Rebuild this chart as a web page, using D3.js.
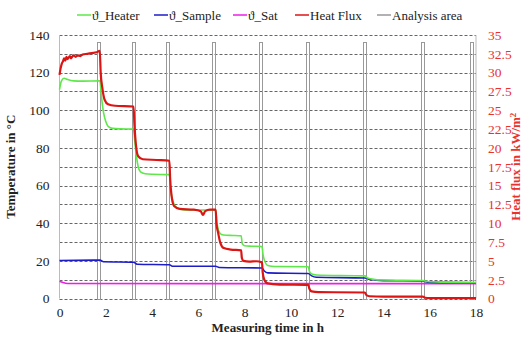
<!DOCTYPE html>
<html>
<head>
<meta charset="utf-8">
<script src="https://cdn.jsdelivr.net/npm/d3@7"></script>
<style>
  body { margin: 0; background: #fff; }
  svg text { font-family: "Liberation Serif", Tinos, "Times New Roman", Times, "DejaVu Serif", serif; }
</style>
</head>
<body>
<script>
// time in h, temperature in °C
const heater = [[0,111],[0.08,115.5],[0.2,117],[0.35,116.3],[0.6,115.6],[1.0,115.5],[1.75,115.6],
  [1.8,109],[1.9,99],[2.0,94],[2.1,91.5],[2.3,90.4],[2.6,90.1],[3.2,90],
  [3.25,84],[3.32,76],[3.4,70],[3.5,67.3],[3.7,66.3],[4.0,66],[4.75,65.8],
  [4.8,58],[4.9,52],[5.0,49],[5.2,47.5],[5.6,47],[6.0,47],[6.75,47],
  [6.8,41],[6.88,36],[7.0,34],[7.2,33.6],[7.5,33.5],[7.85,33.3],
  [7.9,29],[8.0,28],[8.3,27.8],[8.75,27.6],
  [8.8,23],[8.9,19],[9.0,17.5],[9.3,17],[10.75,16.9],
  [10.8,14.5],[10.9,13],[11.1,12.5],[13.2,12],
  [13.3,11],[13.5,10.3],[14,9.8],[15.7,9.6],[15.9,9],[16.5,8.7],[18,8.5]];

const sample = [[0,20.2],[1.75,20.4],[1.9,19.5],[3.2,19.3],[3.35,18.2],[4.75,17.9],[4.9,17.1],
  [6.75,17.1],[6.9,16.5],[8.75,16.2],[8.85,14.6],[9.0,13.6],[10.75,13.3],[10.9,12],[11.1,11.3],
  [13.2,10.9],[13.4,10.2],[14,9.5],[15.7,9.3],[15.9,8.7],[18,8.4]];

const sat = [[0,9.2],[0.15,8.5],[0.35,8.0],[6,7.9],[18,7.9]];

// time in h, heat flux in kW/m²
const heatFlux = [[0,29.7],[0.05,30.6],[0.1,31.2],[0.15,31.5],[0.2,31.9],[0.25,31.6],[0.3,32.1],
  [0.35,31.8],[0.45,32.2],[0.5,31.9],[0.6,32.3],[0.7,32.1],[0.8,32.3],[0.9,32.2],[1.0,32.4],
  [1.2,32.5],[1.4,32.6],[1.6,32.7],[1.74,32.9],
  [1.78,30],[1.85,28],[1.95,26.4],[2.1,25.8],[2.4,25.6],[3.2,25.5],
  [3.24,23],[3.3,20.5],[3.4,18.9],[3.6,18.5],[4.2,18.4],[4.75,18.3],
  [4.78,16],[4.85,13.5],[4.95,12.3],[5.2,11.9],[5.8,11.8],[6.1,11.6],[6.2,11.1],[6.3,11.6],[6.5,11.8],[6.75,11.8],
  [6.78,10],[6.85,8.8],[6.95,7.4],[7.1,6.7],[7.4,6.5],[7.85,6.4],
  [7.88,5.4],[7.95,5.0],[8.2,4.9],[8.5,4.95],[8.75,4.8],
  [8.78,3.5],[8.85,2.5],[9.0,2.0],[9.5,1.85],[10.75,1.8],
  [10.8,1.3],[10.9,0.95],[11.2,0.85],[13.2,0.8],
  [13.25,0.5],[13.4,0.3],[14,0.25],[15.7,0.25],[15.8,0.1],[16,0.05],[18,0.05]];

const areaStart = [1.62, 3.13, 4.6, 6.61, 8.63, 10.64, 13.12, 15.63, 17.75];
const areaEnd   = [1.73, 3.24, 4.74, 6.73, 8.74, 10.76, 13.24, 15.74, 17.9];
const areaTop = 136.5;

const timeTicks = [0, 2, 4, 6, 8, 10, 12, 14, 16, 18];
const tempTicks = [0, 20, 40, 60, 80, 100, 120, 140];
const fluxTicks = [0, 2.5, 5, 7.5, 10, 12.5, 15, 17.5, 20, 22.5, 25, 27.5, 30, 32.5, 35];
const gridTemps = [0, 10, 20, 30, 40, 50, 60, 70, 80, 90, 100, 110, 120, 130, 140];

const legendItems = [
  { name: "ϑ_Heater", color: "#5ee84a", x: 77 },
  { name: "ϑ_Sample", color: "#1d1dc8", x: 154 },
  { name: "ϑ_Sat", color: "#ec1ee8", x: 233 },
  { name: "Heat Flux", color: "#dc1414", x: 295 },
  { name: "Analysis area", color: "#999", x: 377 }
];

const serif = '"Liberation Serif", Tinos, "Times New Roman", Times, "DejaVu Serif", serif';

let svg = d3.select("body").append("svg")
  .attr("width", 525)
  .attr("height", 338)
  .attr("font-family", serif)

let x = d3.scaleLinear().domain([0, 18]).range([59.5, 476]);
let yT = d3.scaleLinear().domain([0, 140]).range([298.5, 35]);
let yF = d3.scaleLinear().domain([0, 35]).range([298.5, 35]);

// dashed grid
svg.selectAll(".grid")
  .data(gridTemps)
  .enter().append("line")
  .attr("x1", x(0)).attr("x2", x(18))
  .attr("y1", d => Math.round(yT(d)) + 0.5)
  .attr("y2", d => Math.round(yT(d)) + 0.5)
  .style("stroke", "#666")
  .style("stroke-dasharray", "3,2")
  .style("stroke-width", 1);

// plot frame sides
svg.append("line").attr("x1", x(0)).attr("x2", x(0)).attr("y1", yT(140)).attr("y2", yT(0))
  .style("stroke", "#bbb");
svg.append("line").attr("x1", x(18)).attr("x2", x(18)).attr("y1", yT(140)).attr("y2", yT(0))
  .style("stroke", "#bbb");

// analysis areas
svg.selectAll(".area")
  .data(areaStart)
  .enter().append("rect")
  .attr("x", d => Math.round(x(d)) + 0.5)
  .attr("y", Math.round(yT(areaTop)) + 0.5)
  .attr("width", (d, i) => Math.round(x(areaEnd[i]) - x(d)))
  .attr("height", Math.round(yT(0) - yT(areaTop)))
  .style("fill", "none")
  .style("stroke", "#999")
  .style("stroke-width", 1);

// series
let lineT = d3.line().x(d => x(d[0])).y(d => yT(d[1])).curve(d3.curveMonotoneX);
let lineF = d3.line().x(d => x(d[0])).y(d => yF(d[1])).curve(d3.curveMonotoneX);

svg.append("path").attr("d", lineT(sat))
  .style("fill", "none").style("stroke", "#ec1ee8").style("stroke-width", 1.6);
svg.append("path").attr("d", lineT(sample))
  .style("fill", "none").style("stroke", "#1d1dc8").style("stroke-width", 1.6);
svg.append("path").attr("d", lineT(heater))
  .style("fill", "none").style("stroke", "#5ee84a").style("stroke-width", 1.6);
svg.append("path").attr("d", lineF(heatFlux))
  .style("fill", "none").style("stroke", "#dc1414").style("stroke-width", 2.2);

// axes
let axL = svg.append("g").attr("transform", "translate(" + x(0) + ",0)")
  .call(d3.axisLeft(yT).tickValues(tempTicks).tickSize(0).tickPadding(10));
let axR = svg.append("g").attr("transform", "translate(" + x(18) + ",0)")
  .call(d3.axisRight(yF).tickValues(fluxTicks).tickSize(0).tickPadding(12).tickFormat(d => String(d)));
let axB = svg.append("g").attr("transform", "translate(0," + yT(0) + ")")
  .call(d3.axisBottom(x).tickValues(timeTicks).tickSize(0).tickPadding(9));

[axL, axR, axB].forEach(a => {
  a.attr("font-family", serif).attr("font-size", 13.5);
  a.select(".domain").remove();
});
axL.selectAll("text").style("fill", "#222");
axB.selectAll("text").style("fill", "#222");
axR.selectAll("text").style("fill", "#e8322e");

// axis titles
svg.append("text")
  .attr("transform", "translate(15," + yT(70) + ") rotate(-90)")
  .attr("text-anchor", "middle")
  .style("font-size", "13px").style("font-weight", "bold").style("fill", "#222")
  .text("Temperature in °C");

svg.append("text")
  .attr("transform", "translate(520," + yT(70) + ") rotate(-90)")
  .attr("text-anchor", "middle")
  .style("font-size", "13px").style("font-weight", "bold").style("fill", "#e8322e")
  .html("Heat flux in kW/m<tspan dy='-4' font-size='9px'>2</tspan>");

svg.append("text")
  .attr("x", (x(0) + x(18)) / 2)
  .attr("y", 332)
  .attr("text-anchor", "middle")
  .style("font-size", "13px").style("font-weight", "bold").style("fill", "#222")
  .text("Measuring time in h");

// legend
let leg = svg.selectAll(".leg")
  .data(legendItems)
  .enter().append("g")
  .attr("transform", d => "translate(" + d.x + ",15)");
leg.append("line")
  .attr("x1", 0).attr("x2", 14).attr("y1", 0).attr("y2", 0)
  .style("stroke", d => d.color).style("stroke-width", 1.5);
leg.append("text")
  .attr("x", 15).attr("y", 4.5)
  .style("font-size", "13px").style("fill", "#222")
  .text(d => d.name);
</script>
</body>
</html>
